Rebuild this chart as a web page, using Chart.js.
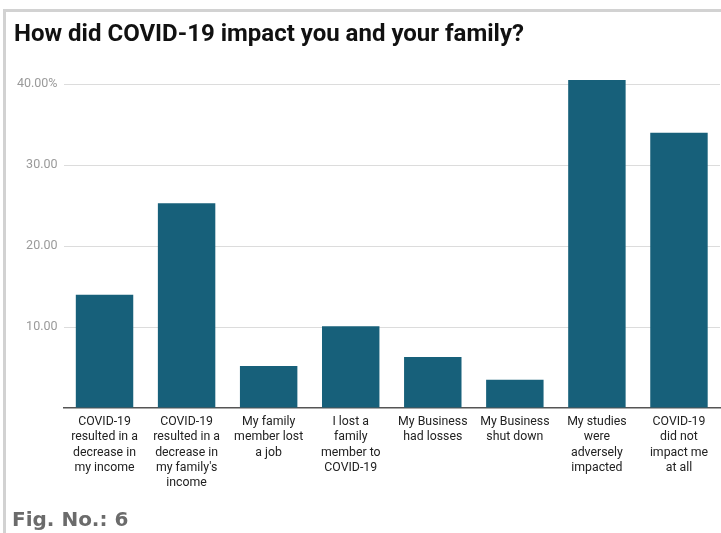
<!DOCTYPE html>
<html>
<head>
<meta charset="utf-8">
<script src="https://cdn.jsdelivr.net/npm/chart.js@4.4.1/dist/chart.umd.min.js"></script>
<style>
  html, body { margin: 0; padding: 0; background: #fff; }
  body { width: 721px; height: 533px; position: relative; overflow: hidden; }
  #frame {
    position: absolute; left: 3px; top: 9px; right: -10px; bottom: -10px;
    border-top: 3px solid #d2d2d2; border-left: 3px solid #d2d2d2;
  }
  #wrap { position: absolute; left: 0; top: 0; width: 721px; height: 533px; }
  #fig {
    position: absolute; left: 12px; top: 507px;
    font: bold 20px "DejaVu Sans", sans-serif; color: #6b6b6b;
  }
</style>
</head>
<body>
<div id="frame"></div>
<div id="wrap"><canvas id="bar-chart"></canvas></div>
<div id="fig">Fig. No.: 6</div>
<script>
const categories = [
  ["COVID-19", "resulted in a", "decrease in", "my income"],
  ["COVID-19", "resulted in a", "decrease in", "my family's", "income"],
  ["My family", "member lost", "a job"],
  ["I lost a", "family", "member to", "COVID-19"],
  ["My Business", "had losses"],
  ["My Business", "shut down"],
  ["My studies", "were", "adversely", "impacted"],
  ["COVID-19", "did not", "impact me", "at all"],
];
const percentages = [14.0, 25.3, 5.2, 10.1, 6.3, 3.5, 40.5, 34.0];
const yTicks = [0, 10, 20, 30, 40];

const chartWrapper = document.getElementById("bar-chart");

new Chart(chartWrapper, {
  type: "bar",
  data: {
    labels: categories,
    datasets: [
      {
        label: "Share of respondents",
        data: percentages,
        backgroundColor: "#17607a",
        barPercentage: 0.7,
        categoryPercentage: 1,
      },
    ],
  },
  options: {
    responsive: true,
    maintainAspectRatio: false,
    animation: false,
    layout: { padding: { top: 20.6, left: 14, right: 1, bottom: 35 } },
    plugins: {
      legend: { display: false },
      tooltip: { enabled: false },
      title: {
        display: true,
        text: "How did COVID-19 impact you and your family?",
        align: "start",
        color: "#111",
        font: { family: "Roboto", size: 24, weight: "bold" },
        padding: { top: 0, bottom: 26.6 },
      },
    },
    scales: {
      x: {
        grid: { display: false },
        border: { color: "#555", width: 1.5 },
        ticks: {
          autoSkip: false,
          maxRotation: 0,
          padding: -2,
          color: "#222",
          font: { family: "Roboto", size: 12.3, lineHeight: 1.25 },
        },
        afterFit: (scale) => {
          scale.height = 90;
        },
      },
      y: {
        min: 0,
        max: 41,
        afterBuildTicks: (scale) => {
          scale.ticks = yTicks.map((value) => ({ value }));
        },
        border: { display: false },
        grid: {
          drawTicks: false,
          color: (ctx) => (ctx.tick && ctx.tick.value === 0 ? "transparent" : "#dcdcdc"),
        },
        ticks: {
          padding: 6,
          color: "#9a9a9a",
          font: { family: "Roboto", size: 12.5 },
          callback: (value) => {
            if (value === 0) return "";
            return value === 40 ? "40.00%" : value.toFixed(2);
          },
        },
        afterFit: (scale) => {
          scale.width = 49.5;
        },
      },
    },
  },
});
</script>
</body>
</html>
